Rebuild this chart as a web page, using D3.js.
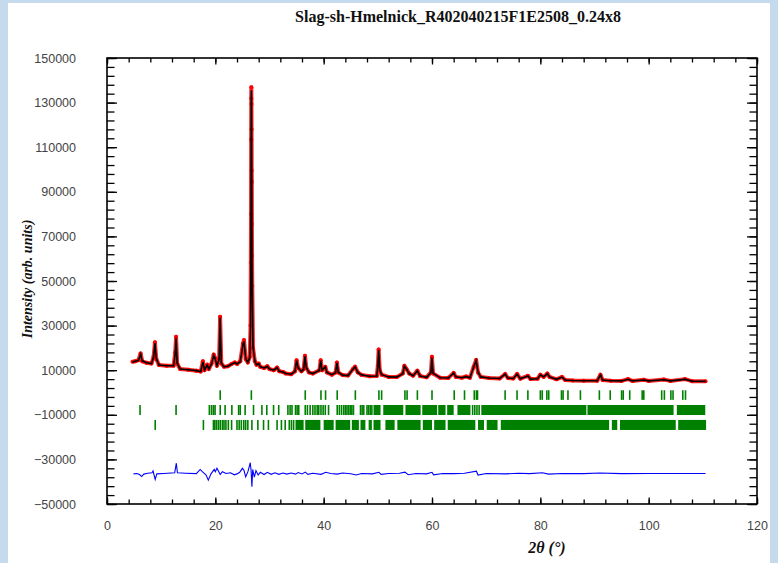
<!DOCTYPE html>
<html>
<head>
<meta charset="utf-8">
<script src="https://cdn.jsdelivr.net/npm/d3@7"></script>
<style>
  body { margin: 0; background: #c6daee; }
  svg { display: block; }
</style>
</head>
<body>
<svg id="chart"></svg>
<script>
// Titre et libellés
const chartTitle = 'Slag-sh-Hmelnick_R402040215F1E2508_0.24x8';
const xLabel = '2\u03B8 (\u00B0)';
const yLabel = 'Intensity (arb. units)';

// Graduations
const xMajorTicks = [0, 20, 40, 60, 80, 100, 120];
const xMinorTicks = [0, 4, 8, 12, 16, 20, 24, 28, 32, 36, 40, 44, 48, 52, 56, 60, 64, 68, 72, 76, 80, 84, 88, 92, 96, 100, 104, 108, 112, 116, 120];
const yMajorTicks = [150000, 130000, 110000, 90000, 70000, 50000, 30000, 10000, -10000, -30000, -50000];
const yMinorTicks = [150000, 146000, 142000, 138000, 134000, 130000, 126000, 122000, 118000, 114000, 110000, 106000, 102000, 98000, 94000, 90000, 86000, 82000, 78000, 74000, 70000, 66000, 62000, 58000, 54000, 50000, 46000, 42000, 38000, 34000, 30000, 26000, 22000, 18000, 14000, 10000, 6000, 2000, -2000, -6000, -10000, -14000, -18000, -22000, -26000, -30000, -34000, -38000, -42000, -46000, -50000];

// Profil observé / calculé (2θ, intensité)
const twoTheta = [4.7, 5.2, 5.8, 6.2, 6.5, 7.3, 8.2, 8.6, 8.85, 9.1, 9.6, 11, 12.3, 12.6, 12.75, 12.95, 13.5, 15, 16.5, 17.3, 17.7, 18.0, 18.5, 18.8, 19.3, 19.7, 19.95, 20.3, 20.7, 20.88, 21.1, 21.6, 22.3, 23.0, 23.6, 24.0, 24.6, 25.1, 25.3, 25.6, 26.0, 26.35, 26.5, 26.56, 26.59, 26.61, 26.63, 26.65, 26.67, 26.69, 26.71, 26.73, 26.75, 26.78, 26.82, 26.95, 27.3, 27.6, 28.0, 28.3, 29.0, 29.6, 30.0, 30.8, 31.4, 31.8, 32.5, 33.0, 34.0, 34.7, 35.0, 35.3, 35.9, 36.3, 36.55, 36.8, 37.3, 38.0, 39.2, 39.45, 39.7, 40.3, 40.6, 41.5, 42.2, 42.45, 42.7, 43.5, 44.5, 45.4, 45.8, 46.3, 47.0, 48.5, 49.8, 50.0, 50.15, 50.35, 50.7, 52, 53.5, 54.6, 54.9, 55.3, 55.8, 56.5, 57.3, 57.8, 59.0, 59.8, 59.98, 60.2, 61.5, 63.0, 64.0, 64.4, 65.5, 66.3, 67.0, 67.7, 68.15, 68.5, 69.0, 70.5, 72.5, 73.5, 74.0, 75.0, 75.7, 76.3, 77.7, 78.2, 79.5, 80.0, 80.6, 81.3, 81.7, 83.0, 84.0, 84.6, 86.0, 88.0, 90.5, 91.1, 91.5, 93.0, 95.0, 96.2, 97.0, 99.1, 100, 102.8, 104, 106.7, 108, 110.5];
const yObs = [13800, 14000, 14500, 17500, 14000, 13300, 13000, 16000, 22500, 15000, 12300, 12000, 12000, 18000, 25000, 13000, 10500, 10200, 9800, 9400, 14000, 10000, 12500, 10500, 13000, 17000, 15500, 12000, 15000, 34000, 13000, 11500, 11800, 12800, 13500, 12800, 14000, 22000, 23500, 15000, 13500, 16000, 30000, 58200, 80000, 113500, 131900, 136900, 129400, 118000, 99500, 94500, 75600, 61300, 47800, 20000, 14000, 12500, 13000, 11500, 11000, 11800, 10500, 10000, 11200, 9500, 9200, 8500, 8200, 9500, 14500, 11000, 9500, 10500, 16500, 11000, 9000, 8500, 10000, 14500, 10000, 11500, 9000, 8000, 9000, 13500, 9000, 7800, 7600, 10500, 11600, 9000, 7900, 7300, 7400, 12000, 19300, 10000, 8000, 7000, 6900, 8500, 12000, 10500, 8500, 7500, 9800, 7400, 6800, 9000, 16000, 8500, 6600, 6500, 8800, 7000, 6600, 7200, 6600, 11600, 14600, 9000, 7000, 6500, 6300, 8300, 6500, 6300, 8300, 6200, 7500, 6000, 6200, 8000, 7000, 8500, 7000, 5900, 7000, 5600, 5400, 5300, 5300, 8000, 5600, 5300, 5200, 6000, 5200, 5700, 5200, 5800, 5200, 6000, 5100, 5000];
const yCalc = [13600, 14000, 14400, 17200, 14200, 13300, 13000, 15800, 22000, 15200, 12300, 12000, 12000, 17600, 24500, 13200, 10500, 10200, 9800, 9400, 13600, 10100, 12300, 10600, 12800, 16600, 15300, 12100, 14800, 33500, 13200, 11500, 11800, 12700, 13400, 12800, 13800, 21500, 23000, 15200, 13500, 15500, 29000, 57000, 82000, 112000, 130500, 135500, 130500, 117000, 101000, 93000, 77000, 60000, 48500, 20500, 14000, 12500, 12900, 11500, 11000, 11700, 10500, 10000, 11100, 9500, 9200, 8500, 8200, 9400, 14300, 11000, 9500, 10400, 16200, 11100, 9000, 8500, 9900, 14300, 10000, 11400, 9000, 8000, 8900, 13300, 9100, 7800, 7600, 10400, 11500, 9000, 7900, 7300, 7400, 11800, 19000, 10100, 8000, 7000, 6900, 8400, 11800, 10500, 8500, 7500, 9700, 7400, 6800, 8900, 15700, 8600, 6600, 6500, 8700, 7000, 6600, 7100, 6600, 11400, 14300, 9100, 7000, 6500, 6300, 8200, 6500, 6300, 8200, 6200, 7400, 6000, 6200, 7900, 7000, 8400, 7000, 5900, 6900, 5600, 5400, 5300, 5300, 7900, 5600, 5300, 5200, 5900, 5200, 5600, 5200, 5700, 5200, 5900, 5100, 5000];

// Courbe de différence (décalée)
const diffTheta = [4.9, 5.5, 6.0, 6.4, 6.8, 7.5, 8.3, 8.5, 8.9, 9.2, 10.5, 12.5, 12.8, 13.0, 14.5, 16.5, 17.2, 17.6, 18.3, 18.7, 19.2, 19.8, 20.0, 20.3, 20.9, 21.3, 22.0, 22.8, 23.5, 24.0, 24.5, 25.0, 25.3, 25.6, 26.0, 26.45, 26.6, 26.75, 26.9, 27.2, 27.5, 27.9, 28.3, 29, 29.6, 30.3, 31.0, 31.7, 32.5, 33.2, 34.0, 34.8, 35.3, 36.0, 36.6, 37.1, 38.0, 39.5, 40.4, 41.3, 42.5, 43.5, 45, 46, 47, 49, 50.2, 50.6, 52, 54, 55.0, 55.6, 57, 59, 60.0, 60.3, 62, 64, 66, 68.2, 68.5, 70, 73.6, 76, 78, 80.4, 81.5, 84, 88, 91, 95, 100, 106, 110.5];
const yDiff = [-36500, -36300, -36800, -37700, -36600, -36200, -36000, -35200, -39000, -36500, -36300, -36000, -31700, -36000, -36200, -36400, -34500, -35500, -37000, -39300, -36500, -34500, -35500, -34000, -36800, -35500, -36300, -36000, -36900, -36500, -35800, -34000, -35000, -37800, -35600, -31500, -35000, -42300, -34500, -38000, -35000, -37000, -35800, -36800, -35800, -36700, -36000, -36700, -36100, -36600, -36100, -36600, -35900, -36500, -35700, -36700, -36200, -36700, -35800, -36300, -36600, -36100, -36400, -37000, -36300, -36500, -35800, -36700, -36300, -36200, -35700, -36900, -36300, -36500, -35800, -36900, -36300, -36400, -36200, -35300, -37000, -36300, -36500, -36200, -36400, -36000, -36600, -36300, -36400, -36100, -36400, -36300, -36300, -36300];

// Positions de Bragg (3 phases) : raies isolées et zones de raies superposées
const bragg1Ticks = [20.9, 26.65, 36.6, 39.5, 40.35, 42.5, 45.85, 50.2, 50.7, 55.0, 55.4, 57.3, 60.0, 64.1, 66.0, 67.8, 68.2, 68.4, 73.5, 75.7, 77.7, 80.0, 80.35, 81.2, 81.55, 83.9, 84.2, 85.1, 87.4, 90.9, 92.9, 95.0, 95.3, 96.5, 98.8, 99.1, 102.4, 102.9, 104.1, 104.5, 106.3, 106.8];
const bragg2Ticks = [6.1, 12.75, 18.9, 19.3, 19.65, 19.95, 20.9, 21.8, 23.05, 24.3, 24.6, 25.5, 27.05, 28.6, 29.5, 30.75, 31.7, 33.4, 33.8, 34.15, 34.8, 35.1, 35.4, 36.6, 37.0, 37.5, 38.0, 38.4, 38.8, 39.1, 39.5, 39.9, 40.3, 40.9, 42.5, 42.9, 43.3, 43.7, 44.0, 44.3, 44.6, 44.9, 45.2, 45.5, 46.8, 47.1, 47.4, 48.0, 48.3, 48.6, 48.9, 67.5, 67.9, 68.3, 68.7];
const bragg2Bands = [[49.2, 50.5], [51.0, 54.7], [55.1, 57.9], [58.2, 60.95], [61.15, 62.5], [62.8, 64.0], [64.7, 67.1], [69.1, 88.5], [88.7, 104.6], [105.2, 110.45]];
const bragg3Ticks = [8.9, 17.8, 19.65, 19.9, 20.2, 20.55, 20.9, 21.3, 21.6, 21.95, 22.4, 23.0, 24.0, 24.4, 24.8, 25.25, 25.6, 26.0, 26.75, 27.85, 28.9, 29.8, 31.4, 32.2, 32.9, 33.65, 34.05, 34.45];
const bragg3Bands = [[34.8, 36.3], [36.6, 39.4], [40.0, 41.85], [42.2, 44.9], [45.2, 46.5], [46.8, 47.7], [48.3, 48.9], [49.2, 50.5], [51.4, 53.1], [53.6, 57.9], [58.3, 60.0], [60.4, 62.5], [62.9, 68.0], [68.5, 69.6], [70.1, 72.1], [72.7, 92.7], [93.2, 94.2], [94.7, 105.0], [105.45, 110.6]];

// Dimensions
const W = 778, H = 563;
const margin = { top: 58, right: 21, bottom: 59, left: 107 };
const width = W - margin.left - margin.right;
const height = H - margin.top - margin.bottom;

const root = d3.select('#chart').attr('width', W).attr('height', H);

// Cadre blanc sur fond bleu clair
root.append('rect')
    .attr('x', 8).attr('y', 3)
    .attr('width', 762).attr('height', H - 3)
    .attr('fill', '#ffffff');

const svg = root.append('g')
    .attr('transform', `translate(${margin.left},${margin.top})`);

// Échelles
const x = d3.scaleLinear().domain([0, 120]).range([0, width]);
const y = d3.scaleLinear().domain([-50000, 150000]).range([height, 0]);

// Positions de Bragg
const rows = [
    { ticks: bragg1Ticks, bands: [], top: 1000, bottom: -3300 },
    { ticks: bragg2Ticks, bands: bragg2Bands, top: -5600, bottom: -10100 },
    { ticks: bragg3Ticks, bands: bragg3Bands, top: -12300, bottom: -16800 }
];
rows.forEach(r => {
    const g = svg.append('g').attr('fill', '#008000');
    g.selectAll('.tick-b').data(r.ticks).enter().append('rect')
        .attr('x', d => x(d) - 0.8)
        .attr('y', y(r.top))
        .attr('width', 1.6)
        .attr('height', y(r.bottom) - y(r.top));
    g.selectAll('.band-b').data(r.bands).enter().append('rect')
        .attr('x', d => x(d[0]))
        .attr('y', y(r.top))
        .attr('width', d => x(d[1]) - x(d[0]))
        .attr('height', y(r.bottom) - y(r.top));
});

// Courbe de différence
const diffLine = d3.line().x((d, i) => x(diffTheta[i])).y(d => y(d));
svg.append('path')
    .datum(yDiff)
    .attr('d', diffLine)
    .attr('fill', 'none')
    .attr('stroke', '#0000ff')
    .attr('stroke-width', 1.1);

// Observé (rouge) puis calculé (noir)
const obsLine = d3.line().x((d, i) => x(twoTheta[i])).y(d => y(d));
svg.append('path')
    .datum(yObs)
    .attr('d', obsLine)
    .attr('fill', 'none')
    .attr('stroke', '#ff0000')
    .attr('stroke-width', 4)
    .attr('stroke-linejoin', 'round')
    .attr('stroke-opacity', 0.85);

svg.selectAll('.obs')
    .data(yObs)
    .enter().append('circle')
    .attr('cx', (d, i) => x(twoTheta[i]))
    .attr('cy', d => y(d))
    .attr('r', 2)
    .attr('fill', '#ff0000');

svg.append('path')
    .datum(yCalc)
    .attr('d', obsLine)
    .attr('fill', 'none')
    .attr('stroke', '#000000')
    .attr('stroke-width', 1.6);

// Axes (graduations vers l'intérieur)
const styleAxis = g => {
    g.select('.domain').remove();
    g.selectAll('line').attr('stroke', '#000').attr('stroke-width', 1.3);
    g.selectAll('text')
        .attr('fill', '#444')
        .style('font-family', '"Liberation Sans", Arial, sans-serif')
        .style('font-size', '12.5px');
};

svg.append('g').attr('transform', `translate(0,${height})`)
    .call(d3.axisBottom(x).tickValues(xMinorTicks).tickSize(-4.5).tickFormat(''))
    .call(styleAxis);
svg.append('g').attr('transform', `translate(0,${height})`)
    .call(d3.axisBottom(x).tickValues(xMajorTicks).tickSize(-6.5).tickPadding(17).tickFormat(d3.format('d')))
    .call(styleAxis);
svg.append('g')
    .call(d3.axisTop(x).tickValues(xMinorTicks).tickSize(-4.5).tickFormat(''))
    .call(styleAxis);
svg.append('g')
    .call(d3.axisTop(x).tickValues(xMajorTicks).tickSize(-6.5).tickFormat(''))
    .call(styleAxis);

svg.append('g')
    .call(d3.axisLeft(y).tickValues(yMinorTicks).tickSize(-7.5).tickFormat(''))
    .call(styleAxis);
svg.append('g')
    .call(d3.axisLeft(y).tickValues(yMajorTicks).tickSize(-10).tickPadding(31).tickFormat(d3.format('d')))
    .call(styleAxis);
svg.append('g').attr('transform', `translate(${width},0)`)
    .call(d3.axisRight(y).tickValues(yMinorTicks).tickSize(-7.5).tickFormat(''))
    .call(styleAxis);
svg.append('g').attr('transform', `translate(${width},0)`)
    .call(d3.axisRight(y).tickValues(yMajorTicks).tickSize(-10).tickFormat(''))
    .call(styleAxis);

// Cadre
svg.append('rect')
    .attr('width', width).attr('height', height)
    .attr('fill', 'none')
    .attr('stroke', '#000')
    .attr('stroke-width', 1.6);

// Titres
root.append('text')
    .attr('x', 458).attr('y', 22)
    .attr('text-anchor', 'middle')
    .style('font-family', '"Liberation Serif", "Times New Roman", serif')
    .style('font-weight', 'bold')
    .style('font-size', '16px')
    .attr('fill', '#111')
    .text(chartTitle);

root.append('text')
    .attr('x', 547).attr('y', 553)
    .attr('text-anchor', 'middle')
    .style('font-family', '"Liberation Serif", "Times New Roman", serif')
    .style('font-weight', 'bold')
    .style('font-style', 'italic')
    .style('font-size', '16px')
    .attr('fill', '#111')
    .text(xLabel);

root.append('text')
    .attr('transform', 'translate(32,279) rotate(-90)')
    .attr('text-anchor', 'middle')
    .style('font-family', '"Liberation Serif", "Times New Roman", serif')
    .style('font-weight', 'bold')
    .style('font-style', 'italic')
    .style('font-size', '14px')
    .attr('fill', '#111')
    .text(yLabel);
</script>
</body>
</html>
